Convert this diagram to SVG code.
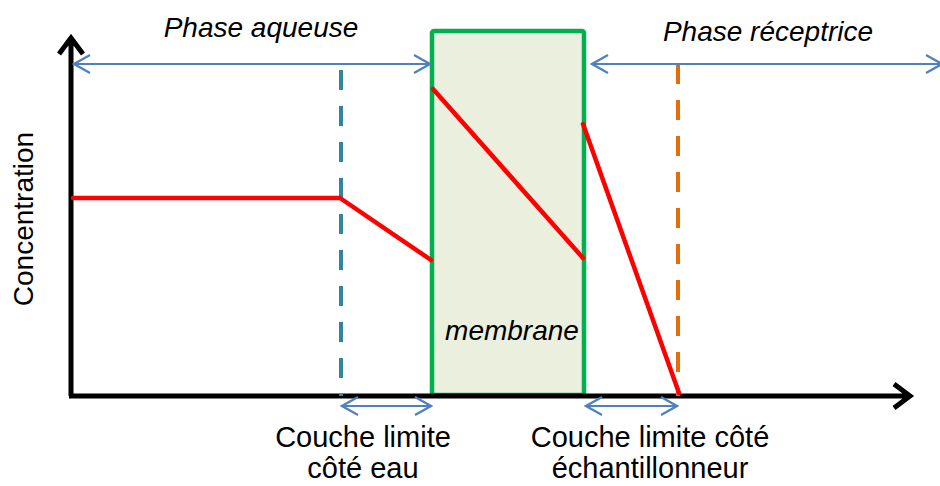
<svg xmlns="http://www.w3.org/2000/svg" width="940" height="486" viewBox="0 0 940 486">
<defs>
<marker id="bh" viewBox="0 0 20 20" refX="18" refY="10" markerWidth="20" markerHeight="20" markerUnits="userSpaceOnUse" orient="auto-start-reverse">
<path d="M2,1 L18,10 L2,19" fill="none" stroke="#4F81BD" stroke-width="2.2"/>
</marker>
</defs>
<style>
.t{font-family:"Liberation Sans",Arial,sans-serif;font-size:28px;fill:#000}
.b{font-size:29px}
.i{font-style:italic}
.blue{stroke:#4F81BD;stroke-width:2.2;fill:none}
.red{stroke:#FF0000;stroke-width:4.5;fill:none;stroke-linecap:round;stroke-linejoin:round}
.ax{stroke:#000;stroke-width:5;fill:none}
</style>
<rect width="940" height="486" fill="#fff"/>
<g id="membrane">
<rect x="432" y="31" width="152" height="364" rx="2" fill="#EBEFDD" stroke="#00B050" stroke-width="4.5"/>
<text class="t i" x="512" y="340" text-anchor="middle">membrane</text>
</g>
<g id="axes">
<path class="ax" d="M71,396 L71,38 M59,54 L71,38 L83,54"/>
<path class="ax" d="M69,396 L910,396 M894,384 L910,396 L894,408"/>
<text class="t" transform="translate(33,219) rotate(-90)" x="0" y="0" text-anchor="middle">Concentration</text>
</g>
<g id="boundaries">
<line x1="341" y1="70" x2="341" y2="396" stroke="#31859C" stroke-width="4" stroke-dasharray="20,16"/>
<line x1="678" y1="64" x2="678" y2="396" stroke="#E46C0A" stroke-width="4" stroke-dasharray="20,16"/>
</g>
<g id="connectors">
<line class="blue" x1="74" y1="64" x2="430" y2="64" marker-start="url(#bh)" marker-end="url(#bh)"/>
<line class="blue" x1="592" y1="64" x2="942" y2="64" marker-start="url(#bh)" marker-end="url(#bh)"/>
<line class="blue" x1="342" y1="406" x2="431" y2="406" marker-start="url(#bh)" marker-end="url(#bh)"/>
<line class="blue" x1="586" y1="406" x2="677" y2="406" marker-start="url(#bh)" marker-end="url(#bh)"/>
</g>
<g id="profile">
<polyline class="red" points="73,198 340,198 431,260"/>
<line class="red" x1="433" y1="89" x2="583" y2="258"/>
<line class="red" x1="583" y1="124" x2="679" y2="393"/>
</g>
<g id="labels">
<text class="t i" x="261" y="37" text-anchor="middle">Phase aqueuse</text>
<text class="t i" x="768" y="41" text-anchor="middle">Phase réceptrice</text>
<text class="t b" x="363" y="447" text-anchor="middle">Couche limite</text>
<text class="t b" x="363" y="478" text-anchor="middle">côté eau</text>
<text class="t b" x="650" y="447" text-anchor="middle">Couche limite côté</text>
<text class="t b" x="650" y="478" text-anchor="middle">échantillonneur</text>
</g>
</svg>
